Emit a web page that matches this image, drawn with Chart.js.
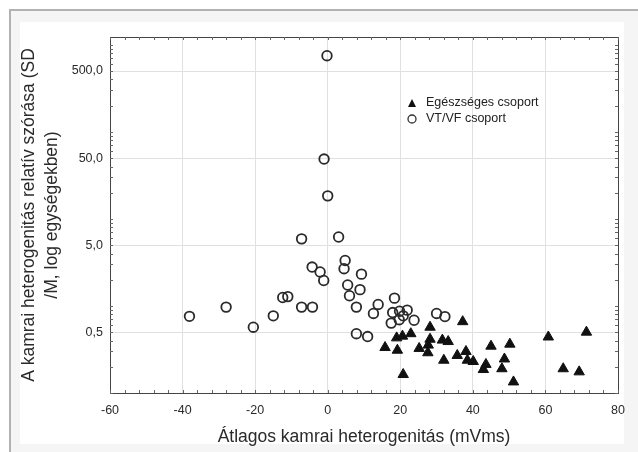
<!DOCTYPE html>
<html>
<head>
<meta charset="utf-8">
<script src="https://cdn.jsdelivr.net/npm/chart.js@4/dist/chart.umd.min.js"></script>
<style>
  html, body { margin: 0; padding: 0; background: #fff; }
  #wrap { width: 638px; height: 452px; }
</style>
</head>
<body>
<div id="wrap"><canvas id="scatter" width="638" height="452"></canvas></div>
<script>
const xTicks = [-60, -40, -20, 0, 20, 40, 60, 80];
const yTicks = [0.5, 5, 50, 500];
const yTickLabels = ['0,5', '5,0', '50,0', '500,0'];

const seriesNames = ['Egészséges csoport', 'VT/VF csoport'];

// Egészséges csoport (triangles)
const healthyX = [15.8, 19.2, 19.0, 20.6, 22.9, 20.8, 25.2, 28.2, 28.2, 27.7, 27.6, 31.6, 33.2, 32.0, 37.2,
  35.7, 38.1, 38.5, 40.1, 45.0, 43.6, 42.9, 48.0, 48.7, 50.2, 51.2, 60.8, 64.9, 69.3, 71.3];
const healthyY = [0.333, 0.31, 0.43, 0.45, 0.48, 0.163, 0.325, 0.57, 0.415, 0.355, 0.29, 0.405, 0.39, 0.238, 0.66,
  0.27, 0.30, 0.238, 0.23, 0.345, 0.213, 0.186, 0.19, 0.246, 0.364, 0.134, 0.44, 0.19, 0.175, 0.50];

// VT/VF csoport (open circles)
const vtvfX = [-0.2, -1.0, 0.0, -7.2, 3.0, 4.8, 4.5, -4.3, -2.1, -1.1, 9.3, 5.5, 6.0, 8.9, -12.4, -11.0, -7.2,
  -4.2, -28.0, -38.1, -15.0, -20.5, 7.9, 7.9, 11.0, 13.9, 12.6, 18.4, 17.9, 19.8, 21.9, 17.5, 19.7, 20.8,
  23.8, 30.0, 32.3];
const vtvfY = [750, 48.7, 18.4, 5.9, 6.2, 3.33, 2.68, 2.8, 2.46, 1.96, 2.32, 1.74, 1.31, 1.54, 1.25, 1.28, 0.97,
  0.97, 0.97, 0.76, 0.77, 0.57, 0.97, 0.48, 0.445, 1.04, 0.82, 1.23, 0.84, 0.87, 0.895, 0.635, 0.695, 0.77,
  0.685, 0.82, 0.755];

const toPoints = (xs, ys) => xs.map((x, i) => ({x: x, y: ys[i]}));
const FONT = '"Liberation Sans", Arial, sans-serif';

const frame = {
  id: 'frame',
  beforeDraw(chart) {
    const ctx = chart.ctx;
    ctx.save();
    ctx.fillStyle = '#f5f5f5';
    ctx.fillRect(11, 11, 627, 441);
    ctx.fillStyle = '#ffffff';
    ctx.fillRect(20, 22, 604, 422);
    ctx.strokeStyle = '#b2b2b2';
    ctx.lineWidth = 2;
    ctx.beginPath();
    ctx.moveTo(10, 452);
    ctx.lineTo(10, 10);
    ctx.lineTo(638, 10);
    ctx.stroke();
    ctx.restore();
  },
  afterDatasetsDraw(chart) {
    const ctx = chart.ctx;
    const a = chart.chartArea;
    const xs = chart.scales.x, ys = chart.scales.y;
    ctx.save();
    ctx.strokeStyle = '#444';
    ctx.lineWidth = 1;
    ctx.strokeRect(a.left + 0.5, a.top + 0.5, a.right - a.left, a.bottom - a.top);
    // minor ticks
    ctx.strokeStyle = '#666';
    ctx.beginPath();
    for (let v = xs.min; v <= xs.max; v += 4) {
      const px = Math.round(xs.getPixelForValue(v)) + 0.5;
      ctx.moveTo(px, a.bottom); ctx.lineTo(px, a.bottom - 3);
      ctx.moveTo(px, a.top); ctx.lineTo(px, a.top + 3);
    }
    for (let d = 0.1; d < 2000; d *= 10) {
      for (let m = 1; m < 10; m++) {
        const v = d * m;
        if (v < ys.min || v > ys.max) continue;
        const py = Math.round(ys.getPixelForValue(v)) + 0.5;
        ctx.moveTo(a.left, py); ctx.lineTo(a.left + 3, py);
        ctx.moveTo(a.right, py); ctx.lineTo(a.right - 3, py);
      }
    }
    ctx.stroke();

    // legend inside plot
    const lx = a.left + 302, ly = a.top + 66;
    ctx.font = '12.5px ' + FONT;
    ctx.fillStyle = '#222';
    ctx.textBaseline = 'middle';
    ctx.fillText(chart.data.datasets[0].label, lx + 14, ly);
    ctx.fillText(chart.data.datasets[1].label, lx + 14, ly + 16);
    ctx.fillStyle = '#111';
    ctx.beginPath();
    ctx.moveTo(lx, ly - 4); ctx.lineTo(lx + 4, ly + 4); ctx.lineTo(lx - 4, ly + 4); ctx.closePath();
    ctx.fill();
    ctx.strokeStyle = '#333';
    ctx.lineWidth = 1.3;
    ctx.beginPath();
    ctx.arc(lx, ly + 16, 4, 0, Math.PI * 2);
    ctx.stroke();
    ctx.restore();
  }
};

new Chart(document.getElementById('scatter'), {
  type: 'scatter',
  data: {
    datasets: [
      {
        label: seriesNames[0],
        data: toPoints(healthyX, healthyY),
        pointStyle: 'triangle',
        pointRadius: 6,
        backgroundColor: '#111',
        borderColor: '#111',
        borderWidth: 1
      },
      {
        label: seriesNames[1],
        data: toPoints(vtvfX, vtvfY),
        pointStyle: 'circle',
        pointRadius: 4.8,
        backgroundColor: 'rgba(0,0,0,0)',
        borderColor: '#2a2a2a',
        borderWidth: 1.8
      }
    ]
  },
  options: {
    responsive: false,
    animation: false,
    layout: { padding: { left: 0, right: 20, top: 37, bottom: 0 } },
    plugins: {
      legend: { display: false },
      tooltip: { enabled: false }
    },
    scales: {
      x: {
        type: 'linear',
        min: -60,
        max: 80,
        afterFit: s => { s.height = 59; },
        afterBuildTicks: s => { s.ticks = xTicks.map(v => ({value: v})); },
        grid: { color: '#e0e0e0', drawTicks: false },
        border: { display: false },
        ticks: {
          padding: 10,
          color: '#2a2a2a',
          font: { family: FONT, size: 12.5 }
        },
        title: {
          display: true,
          text: 'Átlagos kamrai heterogenitás (mVms)',
          color: '#2a2a2a',
          font: { family: FONT, size: 17.5 },
          padding: { top: 4, bottom: 4 }
        }
      },
      y: {
        type: 'logarithmic',
        min: 0.1,
        max: 1230,
        afterFit: s => { s.width = 110; },
        afterBuildTicks: s => { s.ticks = yTicks.map(v => ({value: v})); },
        grid: { color: '#e0e0e0', drawTicks: false },
        border: { display: false },
        ticks: {
          padding: 7,
          color: '#2a2a2a',
          font: { family: FONT, size: 12.5 },
          callback: (v) => { const i = yTicks.indexOf(v); return i >= 0 ? yTickLabels[i] : ''; }
        },
        title: {
          display: true,
          text: ['A kamrai heterogenitás relatív szórása (SD', '/M, log egységekben)'],
          color: '#2a2a2a',
          font: { family: FONT, size: 17.5, lineHeight: 1.3 },
          padding: { top: 18, bottom: 0 }
        }
      }
    }
  },
  plugins: [frame]
});
</script>
</body>
</html>
